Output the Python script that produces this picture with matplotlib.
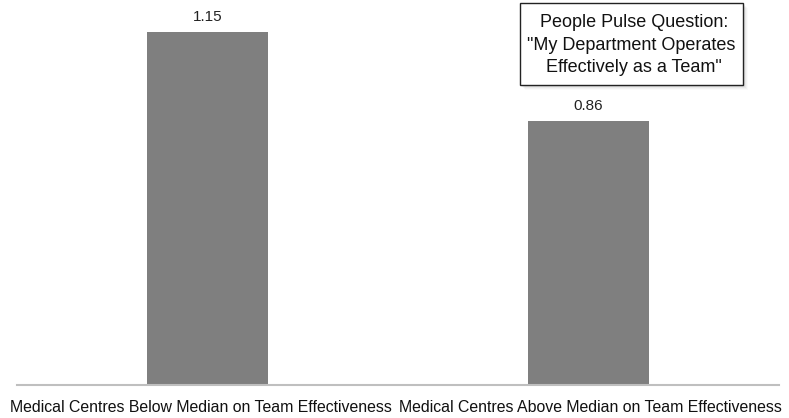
import matplotlib
matplotlib.use("Agg")
import matplotlib.pyplot as plt
from matplotlib.patches import Rectangle
from matplotlib.transforms import ScaledTranslation

categories = ["Medical Centres Below Median on Team Effectiveness",
              "Medical Centres Above Median on Team Effectiveness"]
values = [1.15, 0.86]
value_labels = ["1.15", "0.86"]
note_text = ' People Pulse Question:\n"My Department Operates\n Effectively as a Team"'

plt.rcParams['font.family'] = ['Liberation Sans', 'DejaVu Sans']

W, H = 789, 418
fig = plt.figure(figsize=(W / 100, H / 100), dpi=100)
ax = fig.add_axes([17 / W, (H - 385) / H, 762 / W, 383.4 / H])

x = list(range(len(categories)))
ax.bar(x, values, width=0.315, color="#7f7f7f", zorder=2)
ax.set_xlim(-0.5, 1.5)
ax.set_ylim(0, 1.25)

for xi, v, lab in zip(x, values, value_labels):
    ax.annotate(lab, (xi, v), xytext=(0, 6), textcoords="offset points",
                ha="center", va="bottom", fontsize=11, color="#222222")

for side in ["top", "right", "left"]:
    ax.spines[side].set_visible(False)
ax.spines["bottom"].set_color("#bfbfbf")
ax.spines["bottom"].set_linewidth(1.5)
ax.set_yticks([])
ax.set_xticks(x)
ax.set_xticklabels(categories, fontsize=11.4, color="#111111")
ax.tick_params(axis="x", length=0, pad=11)

# nudge the long category labels apart so they sit side by side
for lbl, dx in zip(ax.get_xticklabels(), [-7, 2]):
    lbl.set_transform(lbl.get_transform() +
                      ScaledTranslation(dx / 100, 0, fig.dpi_scale_trans))

# callout box with a soft drop shadow
bx0, by0, bw, bh = 520, 3, 223, 82
for i, a in enumerate([0.05, 0.05, 0.04, 0.03, 0.02]):
    off = 1 + i
    fig.patches.append(Rectangle(((bx0 + off) / W, (H - by0 - bh - off) / H),
                                 bw / W, bh / H, transform=fig.transFigure,
                                 facecolor="black", edgecolor="none", alpha=a,
                                 zorder=1))
fig.patches.append(Rectangle((bx0 / W, (H - by0 - bh) / H), bw / W, bh / H,
                             transform=fig.transFigure, facecolor="white",
                             edgecolor="#222222", linewidth=1.0, zorder=2))
fig.text((bx0 + bw / 2) / W, (H - by0 - bh / 2 - 1) / H, note_text,
         ha="center", va="center", multialignment="center",
         fontsize=13, linespacing=1.42, color="#111111", zorder=3)

fig.savefig("out.png", dpi=100)
